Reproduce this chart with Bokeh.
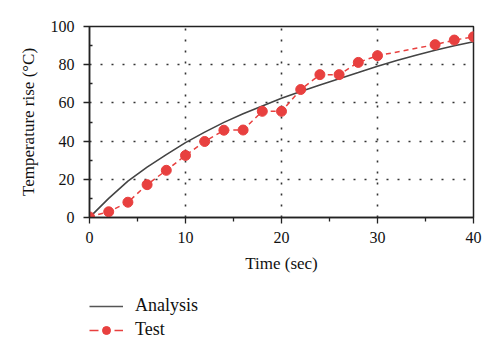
from bokeh.plotting import figure
from bokeh.layouts import column
from bokeh.models import Range1d, Legend, LegendItem, FixedTicker
from bokeh.embed import file_html
from bokeh.resources import INLINE

# Analysis curve
t_analysis = [0, 2, 4, 6, 8, 10, 12, 14, 16, 18, 20, 22, 24, 26, 28, 30, 32, 34, 36, 38, 40]
v_analysis = [0, 10.0, 19.0, 26.4, 32.9, 39.2, 44.7, 49.8, 54.3, 58.4, 62.4, 66.0, 69.4,
              72.7, 75.9, 79.2, 82.2, 85.0, 87.6, 89.9, 92.0]

# Test points
t_test = [0, 2, 4, 6, 8, 10, 12, 14, 16, 18, 20, 22, 24, 26, 28, 30, 36, 38, 40]
v_test = [0.3, 3.0, 8.0, 17.2, 24.7, 32.5, 39.8, 45.7, 45.8, 55.6, 55.6, 67.0, 74.8,
          74.8, 81.2, 84.7, 90.5, 92.9, 94.6]

x_ticks = [0, 10, 20, 30, 40]
y_ticks = [0, 20, 40, 60, 80, 100]
series_names = ["Analysis", "Test"]

FONT = "Liberation Serif"
GRAY = "#444444"
RED = "#E8403F"

p = figure(width=492, height=290, output_backend="svg", toolbar_location=None,
           x_range=Range1d(0, 40), y_range=Range1d(0, 100),
           min_border_left=89, min_border_top=26, min_border_right=19, min_border_bottom=73)

p.background_fill_color = "white"
p.border_fill_color = "white"
p.outline_line_color = "#222222"
p.outline_line_width = 1.5

p.line(t_analysis, v_analysis, line_color=GRAY, line_width=1.6)
p.line(t_test, v_test, line_color=RED, line_width=1.5, line_dash="5 4")
p.scatter(t_test, v_test, size=10, fill_color=RED, line_color=RED)

for ax in (p.xaxis[0], p.yaxis[0]):
    ax.axis_line_color = "#222222"
    ax.axis_line_width = 1.5
    ax.major_tick_line_color = "#222222"
    ax.minor_tick_line_color = "#222222"
    ax.major_tick_line_width = 1.3
    ax.minor_tick_line_width = 1.3
    ax.major_label_text_font = FONT
    ax.major_label_text_font_size = "16px"
    ax.major_label_text_color = "#111111"
    ax.axis_label_text_font = FONT
    ax.axis_label_text_font_size = "17px"
    ax.axis_label_text_font_style = "normal"
    ax.axis_label_text_color = "#111111"

p.xaxis.ticker = FixedTicker(ticks=x_ticks, minor_ticks=[5, 15, 25, 35])
p.yaxis.ticker = FixedTicker(ticks=y_ticks, minor_ticks=[10, 30, 50, 70, 90])
p.xaxis.major_tick_out = 6
p.xaxis.major_tick_in = 0
p.xaxis.minor_tick_out = 4
p.xaxis.minor_tick_in = 0
p.xaxis.major_label_standoff = 8
p.xaxis.axis_label = "Time (sec)"
p.xaxis.axis_label_standoff = 8

p.yaxis.major_tick_out = 6
p.yaxis.major_tick_in = 0
p.yaxis.minor_tick_out = 0
p.yaxis.minor_tick_in = 3
p.yaxis.major_label_standoff = 9
p.yaxis.axis_label = "Temperature rise (°C)"
p.yaxis.axis_label_standoff = 10

p.xgrid.ticker = FixedTicker(ticks=[10, 20, 30])
p.ygrid.ticker = FixedTicker(ticks=[20, 40, 60, 80])
for g in (p.xgrid[0], p.ygrid[0]):
    g.grid_line_color = "#333333"
    g.grid_line_width = 1.6
    g.grid_line_dash = "2 9"

# Legend figure below the chart (its ranges keep the series out of view;
# only the legend is shown)
lg = figure(width=492, height=57, output_backend="svg", toolbar_location=None,
            x_range=Range1d(1000, 1001), y_range=Range1d(1000, 1001),
            x_axis_type=None, y_axis_type=None,
            min_border_left=0, min_border_right=0, min_border_top=0, min_border_bottom=0)
lg.outline_line_color = None
lg.grid.visible = False
r_a = lg.line(t_analysis, v_analysis, line_color="#555555", line_width=1.6)
r_t = lg.line(t_test, v_test, line_color=RED, line_width=1.5, line_dash="9 16")
r_p = lg.scatter(t_test, v_test, size=10, fill_color=RED, line_color=RED)

legend = Legend(items=[LegendItem(label=series_names[0], renderers=[r_a]),
                       LegendItem(label=series_names[1], renderers=[r_t, r_p])],
                location=(0, 7), padding=0, margin=0, spacing=3,
                glyph_width=34, glyph_height=20, label_height=20, label_standoff=12,
                label_text_font=FONT, label_text_font_size="18px",
                label_text_color="#111111",
                border_line_color=None, background_fill_alpha=0)
lg.add_layout(legend, "center")

layout = column(p, lg, spacing=0)
open("out.html", "w").write(file_html(layout, INLINE))
